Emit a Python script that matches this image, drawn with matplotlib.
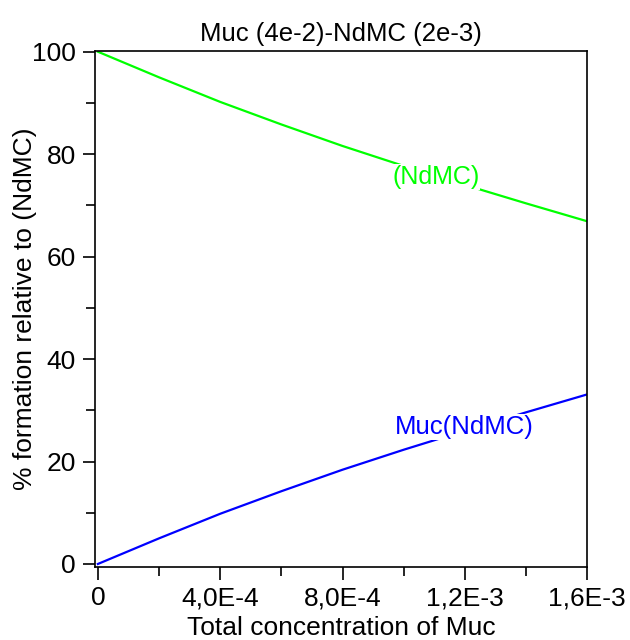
import matplotlib
matplotlib.use("Agg")
import matplotlib.pyplot as plt
from matplotlib.ticker import FixedLocator, FixedFormatter

plt.rcParams['font.family'] = ['Liberation Sans', 'DejaVu Sans']

# total Muc concentration (M) and species distribution (% of NdMC)
conc_muc = [0, 2e-4, 4e-4, 6e-4, 8e-4, 1.0e-3, 1.2e-3, 1.4e-3, 1.6e-3]
pct_ndmc = [100, 95.0, 90.2, 85.8, 81.6, 77.7, 74.0, 70.4, 66.9]
pct_complex = [0, 5.0, 9.8, 14.2, 18.4, 22.3, 26.0, 29.6, 33.1]

x_major = [0, 4e-4, 8e-4, 1.2e-3, 1.6e-3]
x_major_labels = ['0', '4,0E-4', '8,0E-4', '1,2E-3', '1,6E-3']
x_minor = [2e-4, 6e-4, 1.0e-3, 1.4e-3]
y_major = [0, 20, 40, 60, 80, 100]
y_minor = [10, 30, 50, 70, 90]

fig = plt.figure(figsize=(6.3, 6.4), dpi=100)
ax = fig.add_axes([0.151, 0.114, 0.781, 0.806])

ax.plot(conc_muc, pct_ndmc, color='#00ff00', lw=1.6, zorder=2)
ax.plot(conc_muc, pct_complex, color='#0000ff', lw=1.6, zorder=2)

# species labels sit on the curves and break them
ax.text(1.106e-3, 75.5, '(NdMC)', color='#00ff00', fontsize=18,
        ha='center', va='center', zorder=3,
        bbox=dict(facecolor='white', edgecolor='none', pad=0.5))
ax.text(1.198e-3, 26.7, 'Muc(NdMC)', color='#0000ff', fontsize=18.5,
        ha='center', va='center', zorder=3,
        bbox=dict(facecolor='white', edgecolor='none', pad=0.5))

ax.set_xlim(-9e-6, 1.6e-3)
ax.set_ylim(-0.6, 100.1)

ax.xaxis.set_major_locator(FixedLocator(x_major))
ax.xaxis.set_major_formatter(FixedFormatter(x_major_labels))
ax.xaxis.set_minor_locator(FixedLocator(x_minor))
ax.yaxis.set_major_locator(FixedLocator(y_major))
ax.yaxis.set_minor_locator(FixedLocator(y_minor))

ax.tick_params(which='major', direction='out', length=9, width=1.2,
               labelsize=19, pad=5)
ax.tick_params(which='minor', direction='out', length=6.5, width=1.2)
for s in ax.spines.values():
    s.set_linewidth(1.2)

ax.set_title('Muc (4e-2)-NdMC (2e-3)', fontsize=18.5, pad=7)
ax.set_xlabel('Total concentration of Muc', fontsize=19, labelpad=4)
ax.set_ylabel('% formation relative to (NdMC)', fontsize=19, labelpad=-3.5)

fig.savefig('out.png', dpi=100)
